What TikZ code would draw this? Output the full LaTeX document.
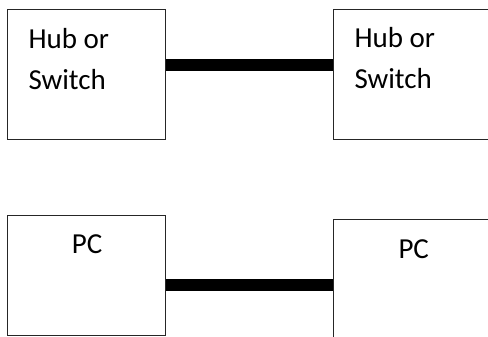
\documentclass[tikz,border=0pt]{standalone}
\usepackage{fontspec}
\setmainfont{Carlito}
\begin{document}
\begin{tikzpicture}[x=1pt,y=1pt,
  device/.style={draw=black!85, line width=1.1pt, fill=white, inner sep=0pt, anchor=north west},
  cable/.style={line width=12pt, black},
  label/.style={anchor=base west, inner sep=0pt, font=\fontsize{29}{41}\selectfont, align=left}]
  \useasboundingbox (0,0) rectangle (488,337);
  \clip (0,0) rectangle (488,337);
  % switches
  \node[device, minimum width=158, minimum height=130] (hubA) at (7,327.7) {};
  \node[device, minimum width=190, minimum height=130] (hubB) at (333.3,327.7) {};
  % computers
  \node[device, minimum width=158, minimum height=120] (pcA) at (7,122) {};
  \node[device, minimum width=190, minimum height=140] (pcB) at (333.3,117.7) {};
  % labels (base anchor sits on the last line)
  \node[label] (hubAtext) at (28.3,247.7) {Hub or\\Switch};
  \node[label] (hubBtext) at (354.3,248.3) {Hub or\\Switch};
  \node[label] (pcAtext) at (71.7,83) {PC};
  \node[label] (pcBtext) at (398.3,78.7) {PC};
  % cables
  \draw[cable] (hubA.east |- 0,271.5) -- (hubB.west |- 0,271.5);
  \draw[cable] (pcA.east |- 0,52) -- (pcB.west |- 0,52);
\end{tikzpicture}
\end{document}
